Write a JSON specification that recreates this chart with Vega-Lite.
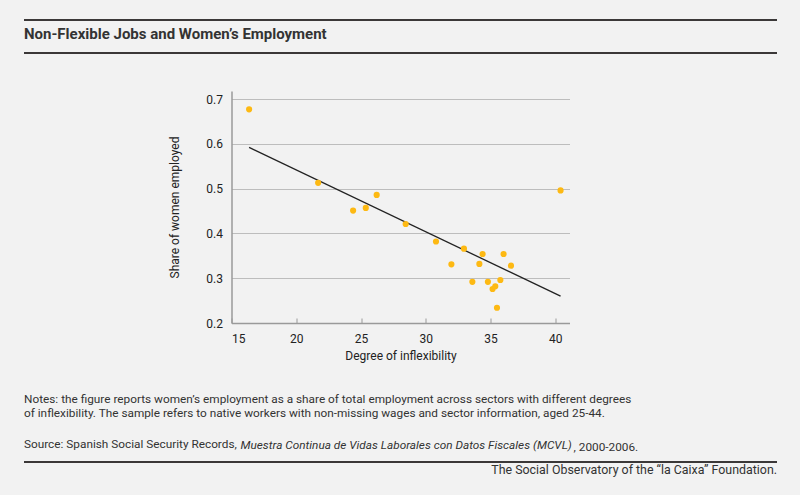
{
  "$schema": "https://vega.github.io/schema/vega-lite/v6.json",
  "background": "#f2f2f2",
  "padding": {"left": 23, "top": 19, "right": 24, "bottom": 0},
  "bounds": "flush",
  "center": true,
  "spacing": 0,
  "config": {
    "font": "Roboto",
    "view": {"stroke": null},
    "title": {"color": "#333333", "font": "Roboto", "offset": 0, "frame": "group"}
  },
  "datasets": {
    "sectors": [
      {"inflex": 16.36, "share": 0.677},
      {"inflex": 21.69, "share": 0.513},
      {"inflex": 24.39, "share": 0.451},
      {"inflex": 25.37, "share": 0.457},
      {"inflex": 26.21, "share": 0.486},
      {"inflex": 28.45, "share": 0.421},
      {"inflex": 30.79, "share": 0.382},
      {"inflex": 31.98, "share": 0.331},
      {"inflex": 32.95, "share": 0.366},
      {"inflex": 33.6, "share": 0.292},
      {"inflex": 34.14, "share": 0.332},
      {"inflex": 34.39, "share": 0.354},
      {"inflex": 34.8, "share": 0.292},
      {"inflex": 35.16, "share": 0.276},
      {"inflex": 35.37, "share": 0.282},
      {"inflex": 35.5, "share": 0.234},
      {"inflex": 35.76, "share": 0.296},
      {"inflex": 36.01, "share": 0.354},
      {"inflex": 36.58, "share": 0.328},
      {"inflex": 40.41, "share": 0.496}
    ],
    "fit": [
      {"inflex": 16.36, "share": 0.592},
      {"inflex": 40.41, "share": 0.26}
    ],
    "edges": [{"edge": "upper"}, {"edge": "lower"}],
    "bottomEdge": [{"edge": "lower"}]
  },
  "vconcat": [
    {
      "width": 753,
      "height": 33,
      "title": {
        "text": "Non-Flexible Jobs and Women’s Employment",
        "orient": "top",
        "anchor": "start",
        "dy": 27,
        "fontSize": 15,
        "fontWeight": "bold"
      },
      "data": {"name": "edges"},
      "mark": {"type": "rule", "color": "#3b3838", "strokeWidth": 2},
      "encoding": {
        "y": {"field": "edge", "type": "ordinal", "scale": {"type": "point", "domain": ["upper", "lower"], "padding": 0}, "axis": null}
      }
    },
    {
      "width": 753,
      "height": 38,
      "data": {"values": []},
      "mark": "point"
    },
    {
      "width": 338,
      "height": 232,
      "layer": [
        {
          "data": {"name": "fit"},
          "mark": {"type": "line", "color": "#222222", "strokeWidth": 1.3},
          "encoding": {
            "x": {"field": "inflex", "type": "quantitative"},
            "y": {"field": "share", "type": "quantitative"}
          }
        },
        {
          "data": {"name": "sectors"},
          "mark": {"type": "circle", "size": 38, "color": "#fdb913", "opacity": 1},
          "encoding": {
            "x": {
              "field": "inflex",
              "type": "quantitative",
              "title": "Degree of inflexibility",
              "scale": {"domain": [15, 41.1], "nice": false, "zero": false},
              "axis": {
                "values": [15, 20, 25, 30, 35, 40],
                "format": "d",
                "grid": false,
                "domainColor": "#9a9a9a",
                "domainWidth": 1.5,
                "tickColor": "#9a9a9a",
                "tickSize": -5,
                "tickWidth": 1,
                "labelFontSize": 12,
                "labelColor": "#222222",
                "labelPadding": 15,
                "titleFontSize": 12,
                "titleFontWeight": "normal",
                "titleColor": "#222222",
                "titlePadding": 6
              }
            },
            "y": {
              "field": "share",
              "type": "quantitative",
              "title": "Share of women employed",
              "scale": {"domain": [0.2, 0.718], "nice": false, "zero": false},
              "axis": {
                "values": [0.2, 0.3, 0.4, 0.5, 0.6, 0.7],
                "format": ".1f",
                "grid": true,
                "gridColor": "#bdbdbd",
                "gridWidth": 1,
                "ticks": false,
                "domainColor": "#9a9a9a",
                "domainWidth": 1.5,
                "labelFontSize": 12,
                "labelColor": "#222222",
                "labelPadding": 9,
                "titleFontSize": 12,
                "titleFontWeight": "normal",
                "titleColor": "#222222",
                "titlePadding": 24
              }
            }
          }
        }
      ]
    },
    {
      "width": 753,
      "height": 139,
      "title": {
        "text": [
          "Notes: the figure reports women’s employment as a share of total employment across sectors with different degrees",
          "of inflexibility. The sample refers to native workers with non-missing wages and sector information, aged 25-44."
        ],
        "subtitle": "Source: Spanish Social Security Records,",
        "orient": "top",
        "anchor": "start",
        "dy": 132,
        "fontSize": 11.8,
        "fontWeight": "normal",
        "lineHeight": 14,
        "subtitleFontSize": 11.8,
        "subtitleColor": "#333333",
        "subtitlePadding": 19
      },
      "layer": [
        {
          "data": {"name": "bottomEdge"},
          "mark": {"type": "rule", "color": "#3b3838", "strokeWidth": 2},
          "encoding": {
            "y": {"field": "edge", "type": "ordinal", "scale": {"type": "point", "domain": ["upper", "lower"], "padding": 0}, "axis": null}
          }
        },
        {
          "data": {"values": []},
          "mark": "point",
          "encoding": {
            "x": {
              "field": "slot",
              "type": "quantitative",
              "scale": {"domain": [0, 1]},
              "axis": {
                "domain": false, "ticks": false, "labels": false, "grid": false,
                "title": "Muestra Continua de Vidas Laborales con Datos Fiscales (MCVL)",
                "titleFont": "Roboto",
                "titleFontStyle": "italic",
                "titleFontWeight": "normal",
                "titleFontSize": 11.8,
                "titleColor": "#333333",
                "titleAnchor": "start",
                "titleAlign": "left",
                "titleBaseline": "alphabetic",
                "titleX": 216,
                "titleY": -14
              }
            },
            "y": {
              "field": "row",
              "type": "quantitative",
              "scale": {"domain": [0, 1]},
              "axis": {
                "domain": false, "ticks": false, "labels": false, "grid": false,
                "title": ", 2000-2006.",
                "titleFont": "Roboto",
                "titleFontWeight": "normal",
                "titleFontSize": 11.8,
                "titleColor": "#333333",
                "titleAngle": 0,
                "titleAnchor": "start",
                "titleAlign": "left",
                "titleBaseline": "alphabetic",
                "titleX": 549,
                "titleY": 127
              }
            }
          }
        }
      ],
      "resolve": {"scale": {"y": "independent", "x": "independent"}}
    },
    {
      "width": 753,
      "height": 34,
      "title": {
        "text": "The Social Observatory of the “la Caixa” Foundation.",
        "orient": "top",
        "anchor": "end",
        "dy": 18,
        "fontSize": 12.4,
        "fontWeight": "normal"
      },
      "data": {"values": []},
      "mark": "point"
    }
  ]
}
